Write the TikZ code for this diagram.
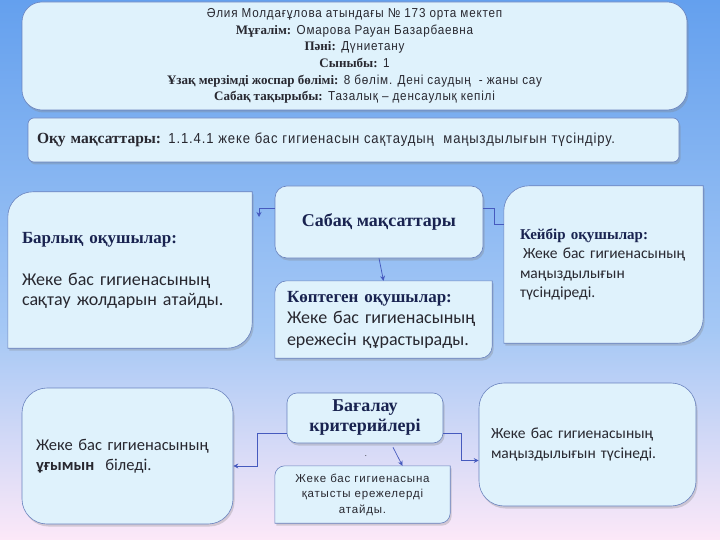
\documentclass[tikz,border=0pt]{standalone}
\usepackage{fontspec}
\setmainfont{Carlito}
\newfontfamily\serifbold{Liberation Serif}
\newfontfamily\narrowsans[FakeStretch=0.9,LetterSpace=6]{Liberation Sans}
\newfontfamily\smallsans[LetterSpace=7]{Liberation Sans}
\usetikzlibrary{arrows.meta,calc,shadows}

\definecolor{boxfill}{RGB}{223,242,252}
\definecolor{boxline}{RGB}{105,130,190}
\definecolor{linkblue}{RGB}{70,90,190}
\definecolor{titleblue}{RGB}{25,35,80}
\definecolor{bodytext}{RGB}{40,40,48}
\definecolor{skytop}{RGB}{100,160,238}
\definecolor{skymid}{RGB}{165,200,245}
\definecolor{skylow}{RGB}{252,232,248}

\pgfdeclarelayer{bg}
\pgfdeclarelayer{boxes}
\pgfsetlayers{bg,boxes,main}

% bold serif labels
\newcommand\lbl[1]{{\serifbold\bfseries #1}}
\newcommand\ttl[1]{{\color{titleblue}\serifbold\bfseries #1}}
% box with rounded top left and bottom right corners
\newcommand\leafbox[2]{%
  \begin{pgfonlayer}{boxes}
    \path[box] (#1.north east) -- ($(#1.south east)+(0,-#2)$)
      .. controls ($(#1.south east)+(0,-0.45*#2)$) and ($(#1.south east)+(-0.45*#2,0)$)
      .. ($(#1.south east)+(-#2,0)$) -- (#1.south west)
      -- ($(#1.north west)+(0,#2)$)
      .. controls ($(#1.north west)+(0,0.45*#2)$) and ($(#1.north west)+(0.45*#2,0)$)
      .. ($(#1.north west)+(#2,0)$) -- cycle;
  \end{pgfonlayer}}

\begin{document}
\begin{tikzpicture}[x=1pt,y=-1pt,
    box/.style={draw=boxline, line width=0.6pt, fill=boxfill,
      drop shadow={opacity=0.3, shadow xshift=1.5pt, shadow yshift=-2.5pt}},
    roundbox/.style={box, rounded corners=#1},
    leafnode/.style={inner sep=0pt},
    link/.style={draw=linkblue, line width=0.7pt},
    arrowlink/.style={link, -{Stealth[length=5pt,width=5pt]}}]

  \useasboundingbox (0,0) rectangle (720,540);
  \begin{pgfonlayer}{bg}
    \shade[top color=skytop, bottom color=skymid] (0,0) rectangle (720,330);
    \shade[top color=skymid, bottom color=skylow] (0,330) rectangle (720,540);
  \end{pgfonlayer}

  % header
  \node[roundbox=20pt, minimum width=665pt, minimum height=108pt, inner sep=0pt,
    align=center, text=bodytext, font=\narrowsans\fontsize{13}{16.7}\selectfont]
    (school) at (354.5,56) {%
      Әлия Молдағұлова атындағы № 173 орта мектеп\\
      \lbl{Мұғалім:} Омарова Рауан Базарбаевна\\
      \lbl{Пәні:} Дүниетану\\
      \lbl{Сыныбы:} 1\\
      \lbl{Ұзақ мерзімді жоспар бөлімі:} 8 бөлім. Дені саудың\ \ - жаны сау\\
      \lbl{Сабақ тақырыбы:} Тазалық – денсаулық кепілі};

  \node[roundbox=6pt, minimum width=651pt, minimum height=44pt, inner sep=0pt,
    text width=633pt, align=left, text=bodytext,
    font=\narrowsans\fontsize{14.5}{17}\selectfont]
    (goal) at (353.5,140) {\lbl{\fontsize{15.5}{17}\selectfont Оқу мақсаттары:}
      1.1.4.1 жеке бас гигиенасын сақтаудың\ \ маңыздылығын түсіндіру.};

  % lesson aims
  \node[leafnode, minimum width=244pt, minimum height=156pt, text width=216pt,
    align=left, text=bodytext, font=\fontsize{18}{19.5}\selectfont]
    (allpupils) at (130,270) {\ttl{\fontsize{17}{19.5}\selectfont Барлық оқушылар:}\\[23pt]
      Жеке бас гигиенасының\\ сақтау жолдарын атайды.};
  \node[roundbox=12pt, minimum width=208pt, minimum height=72pt, text=titleblue,
    font=\serifbold\bfseries\fontsize{18}{21}\selectfont]
    (aims) at (379,222) {Сабақ мақсаттары};
  \node[leafnode, minimum width=217pt, minimum height=77pt, text width=193pt,
    align=left, text=bodytext, font=\fontsize{18}{21.5}\selectfont]
    (most) at (383.5,319.5) {\ttl{\fontsize{17}{21.5}\selectfont Көптеген оқушылар:}\\
      Жеке бас гигиенасының\\ ережесін құрастырады.};
  \node[leafnode, minimum width=199pt, minimum height=157pt, text width=167pt,
    align=left, text=bodytext, font=\fontsize{15.5}{19.5}\selectfont]
    (some) at (603.5,264.5) {\ttl{\fontsize{15}{19.5}\selectfont Кейбір оқушылар:}\\
      \hspace*{3pt}Жеке бас гигиенасының\\ маңыздылығын\\ түсіндіреді.};
  \leafbox{allpupils}{25}
  \leafbox{most}{12}
  \leafbox{some}{25}

  % assessment criteria
  \node[roundbox=25pt, minimum width=211pt, minimum height=136pt, text width=183pt,
    align=left, text=bodytext, font=\fontsize{16.5}{19.5}\selectfont]
    (knows) at (127.5,456) {Жеке бас гигиенасының\\ \textbf{ұғымын}\ \ біледі.};
  \node[roundbox=10pt, minimum width=156pt, minimum height=50pt, inner sep=0pt,
    align=center, text=titleblue, font=\serifbold\bfseries\fontsize{18}{20}\selectfont]
    (criteria) at (365,418) {Бағалау\\ критерийлері};
  \node[leafnode, minimum width=175pt, minimum height=57pt, align=center,
    text=bodytext, font=\smallsans\fontsize{11.5}{15.5}\selectfont]
    (rules) at (362.5,494.5) {Жеке бас гигиенасына\\ қатысты ережелерді\\ атайды.};
  \node[inner sep=0pt, text=bodytext, font=\fontsize{8}{8}\selectfont]
    (dot) at (366,456) {.};
  \node[roundbox=25pt, minimum width=217pt, minimum height=123pt, text width=193pt,
    align=left, text=bodytext, font=\fontsize{15.5}{19.5}\selectfont]
    (grasps) at (587.5,444.5) {Жеке бас гигиенасының\\ маңыздылығын түсінеді.};
  \leafbox{rules}{10}

  % connectors
  \coordinate (allend) at (259,217);
  \draw[arrowlink] ([yshift=14pt]aims.west) -| (allend);
  \draw[link] ([yshift=14pt]aims.east) -- ++(11,0) |- ([yshift=40pt]some.west);
  \draw[arrowlink] (aims.south) -- (most.north);
  \draw[arrowlink] ([yshift=-15pt]criteria.west) -- ++(-29,0) |- ([yshift=-10pt]knows.east);
  \draw[arrowlink] ([yshift=-15pt]criteria.east) -- ++(18,0) |- ([yshift=-16pt]grasps.west);
  \draw[arrowlink] ([xshift=28pt,yshift=-4pt]criteria.south) -- ([xshift=40pt]rules.north);
\end{tikzpicture}
\end{document}
